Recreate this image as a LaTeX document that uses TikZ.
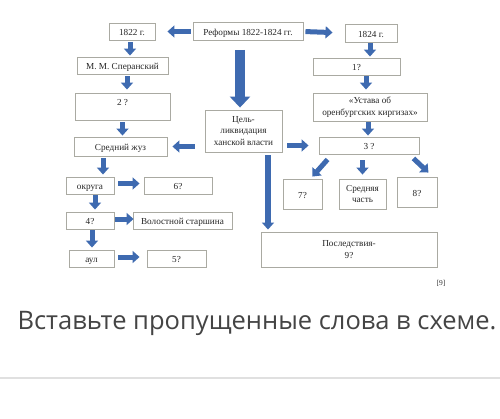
\documentclass[tikz,border=0pt]{standalone}
\usepackage{fontspec}
\setmainfont{Liberation Serif}
\newfontfamily\titlefont{Open Sans}
\usetikzlibrary{arrows.meta}
\definecolor{arrowblue}{RGB}{62,106,176}
\definecolor{boxgray}{RGB}{170,170,162}
\definecolor{titlegray}{RGB}{68,68,68}

\begin{document}
\begin{tikzpicture}[x=1pt,y=-1pt,
  box/.style={draw=boxgray,line width=0.9pt,fill=white,inner sep=1pt,
    font=\fontsize{9.2}{11.5}\selectfont,text=black!85,text height=9.3pt,text depth=1pt},
  multibox/.style={box,align=center,text height=,text depth=},
  barrow/.style={draw=arrowblue,line width=5pt,-{Triangle[length=7pt,width=12pt]}},
  bigarrow/.style={draw=arrowblue,line width=9.5pt,-{Triangle[length=11pt,width=20pt]}}]
\useasboundingbox (0,0) rectangle (500,418);

\node[box,minimum width=46pt,minimum height=17pt] (y1822) at (132,31.5) {1822 г.};
\node[box,minimum width=110pt,minimum height=18pt] (ref) at (248,31.5) {Реформы 1822-1824 гг.};
\node[box,minimum width=52pt,minimum height=18pt] (y1824) at (371,33) {1824 г.};
\node[box,minimum width=91pt,minimum height=17pt] (sper) at (122.5,65.5) {М. М. Сперанский};
\node[box,minimum width=87pt,minimum height=17pt] (q1) at (356.5,66.5) {1?};
\node[box,minimum width=95pt,minimum height=27pt,text height=6.3pt,text depth=9.3pt] (q2) at (122.5,106.5) {2 ?};
\node[multibox,minimum width=114pt,minimum height=28pt] (ustav) at (370,107) {«Устава об\\ оренбургских киргизах»};
\node[multibox,minimum width=77pt,minimum height=42pt] (cel) at (243.5,131) {Цель-\\ ликвидация\\ ханской власти};
\node[box,minimum width=93pt,minimum height=19pt] (sred) at (120.5,146.5) {Средний жуз};
\node[box,minimum width=100pt,minimum height=17pt] (q3) at (369,145.5) {3 ?};
\node[box,minimum width=48pt,minimum height=17pt] (okr) at (90,185.5) {округа};
\node[box,minimum width=68pt,minimum height=17pt] (q6) at (178,185.5) {6?};
\node[box,minimum width=48pt,minimum height=17pt] (q4) at (90,220.5) {4?};
\node[box,minimum width=99pt,minimum height=17pt] (vol) at (182.5,220.5) {Волостной старшина};
\node[box,minimum width=45pt,minimum height=17pt] (aul) at (91.5,258.5) {аул};
\node[box,minimum width=59pt,minimum height=17pt] (q5) at (176.5,258.5) {5?};
\node[box,minimum width=39pt,minimum height=30pt] (q7) at (302.5,194) {7?};
\node[multibox,minimum width=47pt,minimum height=30pt] (mid) at (362.5,194) {Средняя\\ часть};
\node[box,minimum width=40pt,minimum height=30pt] (q8) at (417,192) {8?};
\node[multibox,minimum width=176pt,minimum height=35pt] (posl) at (349,249.5) {Последствия-\\ 9?};
\node[font=\fontsize{7.5}{8}\selectfont,text=black!80] (src) at (441,283) {[9]};

\draw[barrow,shorten <=2pt,shorten >=12pt] (ref.west) -- (y1822.east);
\draw[barrow,shorten <=2pt,shorten >=12pt] (ref.east) -- (y1824.west);
\draw[barrow,shorten <=2pt,shorten >=1pt] ([xshift=-2pt]y1822.south) -- ([xshift=-2pt]y1822.south |- sper.north);
\draw[barrow,shorten <=2pt,shorten >=3pt] ([xshift=4.5pt]sper.south) -- ([xshift=4.5pt]sper.south |- q2.north);
\draw[barrow,shorten <=2pt,shorten >=1pt] (q2.south) -- (q2.south |- sred.north);
\draw[bigarrow,shorten <=9pt,shorten >=2pt] ([xshift=-8pt]ref.south) -- ([xshift=-8pt]ref.south |- cel.north);
\draw[barrow,shorten <=1pt,shorten >=1pt] ([xshift=-1pt]y1824.south) -- ([xshift=-1pt]y1824.south |- q1.north);
\draw[barrow,shorten <=1pt,shorten >=3pt] ([xshift=9.5pt]q1.south) -- ([xshift=9.5pt]q1.south |- ustav.north);
\draw[barrow,shorten <=1pt,shorten >=1pt] ([xshift=-2pt]ustav.south) -- ([xshift=-2pt]ustav.south |- q3.north);
\draw[barrow,shorten <=10pt,shorten >=5pt] (cel.west |- sred.east) -- (sred.east);
\draw[barrow,shorten <=5pt,shorten >=10pt] (cel.east |- q3.west) -- (q3.west);
\draw[barrow,line width=6.5pt,shorten <=3pt,shorten >=2pt] ([xshift=24.5pt]cel.south) -- ([xshift=24.5pt]cel.south |- posl.north);
\draw[barrow] ([xshift=9pt,yshift=-5pt]q3.south west) -- ([xshift=-10pt,yshift=2pt]q7.north east);
\draw[barrow,shorten <=6pt,shorten >=4pt] (mid.north |- q3.south) -- (mid.north);
\draw[barrow] ([xshift=-6pt,yshift=-4pt]q3.south east) -- ([xshift=-9pt,yshift=4pt]q8.north east);
\draw[barrow,shorten <=2pt,shorten >=2pt] ([xshift=-17.5pt]sred.south) -- ([xshift=-17.5pt]sred.south |- okr.north);
\draw[barrow,shorten <=4pt,shorten >=4pt] ([yshift=2pt]okr.east) -- ([yshift=2pt]okr.east -| q6.west);
\draw[barrow,shorten <=1pt,shorten >=2pt] ([xshift=5pt]okr.south) -- ([xshift=5pt]okr.south |- q4.north);
\draw[barrow,shorten <=1pt,shorten >=-1pt] ([yshift=1.5pt]q4.east) -- ([yshift=1.5pt]q4.east -| vol.west);
\draw[barrow,shorten <=1pt,shorten >=2pt] ([xshift=2pt]q4.south) -- ([xshift=2pt]q4.south |- aul.north);
\draw[barrow,shorten <=4pt,shorten >=7pt] ([yshift=1.5pt]aul.east) -- ([yshift=1.5pt]aul.east -| q5.west);

\node[font=\titlefont\fontsize{25.5}{30}\selectfont,text=titlegray] (title) at (257,323) {Вставьте пропущенные слова в схеме.};
\draw[line width=1.2pt,black!12] (0,378) -- (500,378);
\end{tikzpicture}
\end{document}
